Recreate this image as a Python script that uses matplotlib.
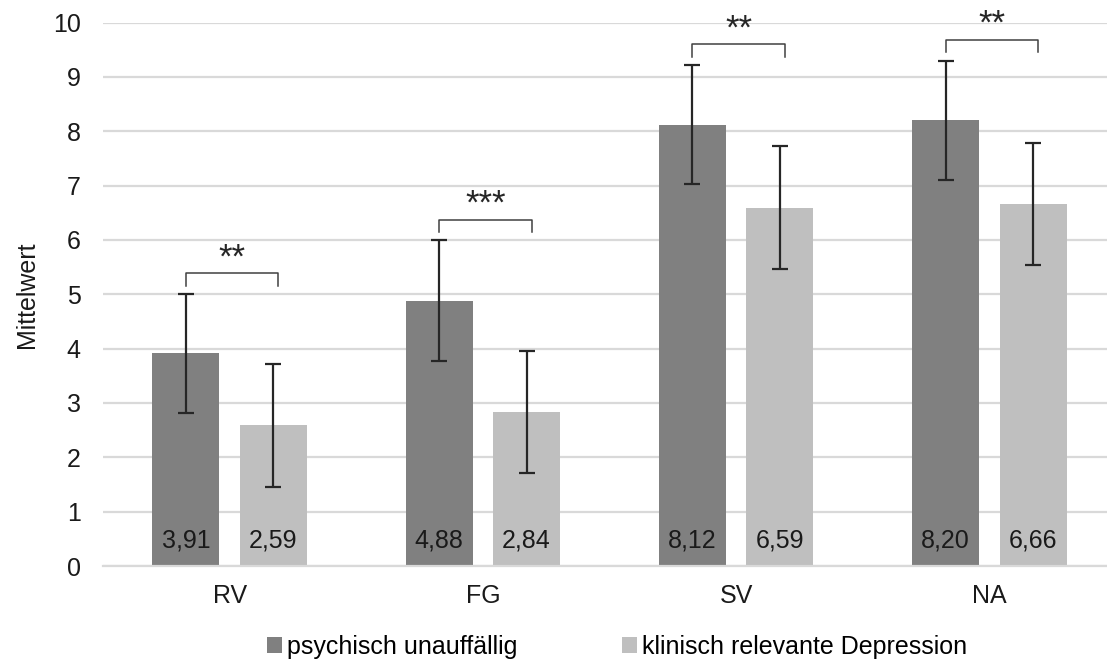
import matplotlib.pyplot as plt
import numpy as np

plt.rcParams['font.family'] = ['Liberation Sans', 'DejaVu Sans']

categories = ['RV', 'FG', 'SV', 'NA']
series_names = ['psychisch unauffällig', 'klinisch relevante Depression']
unauffaellig = [3.91, 4.88, 8.12, 8.20]
depression = [2.59, 2.84, 6.59, 6.66]
err_unauffaellig = [1.10, 1.11, 1.10, 1.10]
err_depression = [1.13, 1.12, 1.13, 1.13]
stars = ['**', '***', '**', '**']

dark = '#808080'
light = '#bfbfbf'
grid = '#d9d9d9'
fs = 18

fig = plt.figure(figsize=(11.07, 6.61), dpi=100)
ax = fig.add_axes([103 / 1107, 95 / 661, 1013 / 1107, 543.5 / 661])

ind = np.arange(len(categories))
width = 0.265
off = 0.1725

ax.bar(ind - off, unauffaellig, width, color=dark, zorder=2, label=series_names[0])
ax.bar(ind + off, depression, width, color=light, zorder=2, label=series_names[1])
ax.errorbar(ind - off, unauffaellig, yerr=err_unauffaellig, fmt='none', ecolor='#262626',
            elinewidth=1.6, capsize=6, capthick=1.6, zorder=3)
ax.errorbar(ind + off, depression, yerr=err_depression, fmt='none', ecolor='#262626',
            elinewidth=1.6, capsize=6, capthick=1.6, zorder=3)

# value labels near the bottom of each bar
for i in range(len(categories)):
    ax.text(ind[i] - off, 0.47, f'{unauffaellig[i]:.2f}'.replace('.', ','),
            ha='center', va='center', fontsize=fs, color='#1a1a1a', zorder=4)
    ax.text(ind[i] + off, 0.47, f'{depression[i]:.2f}'.replace('.', ','),
            ha='center', va='center', fontsize=fs, color='#1a1a1a', zorder=4)

# significance brackets
for i in range(len(categories)):
    top = unauffaellig[i] + err_unauffaellig[i] + 0.38
    x0 = ind[i] - off
    x1 = ind[i] + off + 0.02
    ax.plot([x0, x0, x1, x1], [top - 0.23, top, top, top - 0.23], color='#404040',
            lw=1.1, zorder=4)
    ax.text((x0 + x1) / 2, top - 0.02, stars[i], ha='center', va='bottom',
            fontsize=25, color='#262626')

ax.set_xlim(-0.5, 3.5)
ax.set_ylim(0, 10)
ax.set_yticks(np.arange(0, 11, 1))
ax.set_xticks(ind)
ax.set_xticklabels(categories)
ax.tick_params(axis='both', length=0, labelsize=fs, colors='#1a1a1a')
ax.tick_params(axis='y', pad=16)
ax.tick_params(axis='x', pad=13)
ax.yaxis.grid(True, color=grid, lw=1.6, zorder=0)
ax.set_axisbelow(True)
for s in ['top', 'right', 'left']:
    ax.spines[s].set_visible(False)
ax.spines['bottom'].set_color(grid)
ax.spines['bottom'].set_linewidth(1.6)
ax.set_ylabel('Mittelwert', fontsize=fs, color='#1a1a1a', labelpad=10)

fig.legend(loc='center', bbox_to_anchor=(617 / 1107, 14 / 661), ncol=2, frameon=False,
           fontsize=fs, handlelength=0.6, handleheight=0.6, handletextpad=0.2,
           columnspacing=4.15)

fig.savefig('out.png', dpi=100)
